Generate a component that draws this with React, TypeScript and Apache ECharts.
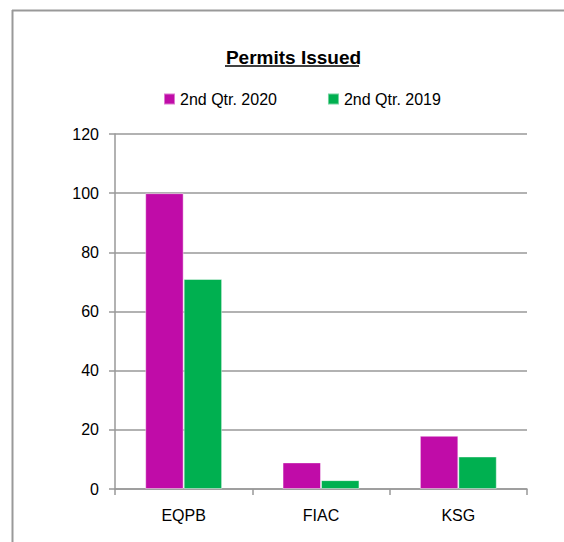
import React, { useEffect, useRef } from "react";
import * as echarts from "echarts";

const categories = ["EQPB", "FIAC", "KSG"];
const series2020 = [100, 9, 18];
const series2019 = [71, 3, 11];
const seriesNames = ["2nd Qtr. 2020", "2nd Qtr. 2019"];
const titleText = "Permits Issued";

const FONT = "'Liberation Sans Narrow', 'Arial Narrow', 'Liberation Sans', sans-serif";

export default function App() {
  const ref = useRef<HTMLDivElement>(null);
  useEffect(() => {
    if (!ref.current) return;
    const chart = echarts.init(ref.current, undefined, { renderer: "svg" });
    chart.setOption({
      animation: false,
      backgroundColor: "#ffffff",
      textStyle: { fontFamily: FONT },
      title: {
        text: titleText,
        left: 288.5,
        top: 43,
        textAlign: "center",
        textStyle: { fontFamily: FONT, fontSize: 19, fontWeight: "bold", color: "#000" },
      },
      legend: {
        left: 158,
        top: 86,
        itemWidth: 11,
        itemHeight: 11,
        itemGap: 50,
        icon: "rect",
        textStyle: { fontFamily: FONT, fontSize: 16, color: "#000" },
        data: seriesNames,
      },
      grid: { left: 115, right: 37, top: 134, bottom: 53 },
      xAxis: {
        type: "category",
        data: categories,
        axisLine: { lineStyle: { color: "#999", width: 1.5 } },
        axisTick: { show: true, length: 6, lineStyle: { color: "#999", width: 1.5 } },
        axisLabel: { fontFamily: FONT, fontSize: 16, color: "#000", margin: 18 },
      },
      yAxis: {
        type: "value",
        min: 0,
        max: 120,
        interval: 20,
        axisLine: { show: true, lineStyle: { color: "#999", width: 1.5 } },
        axisTick: { show: true, length: 6, lineStyle: { color: "#999", width: 1.5 } },
        axisLabel: { fontFamily: FONT, fontSize: 16, color: "#000", margin: 16 },
        splitLine: { lineStyle: { color: "#999", width: 1.5 } },
      },
      series: [
        {
          name: seriesNames[0],
          type: "bar",
          data: series2020,
          barGap: "0%",
          barCategoryGap: "44%",
          itemStyle: { color: "#C00CA8", borderColor: "rgba(255,255,255,0.45)", borderWidth: 1 },
        },
        {
          name: seriesNames[1],
          type: "bar",
          data: series2019,
          barGap: "0%",
          barCategoryGap: "44%",
          itemStyle: { color: "#00B050", borderColor: "rgba(255,255,255,0.45)", borderWidth: 1 },
        },
      ],
      graphic: [
        { type: "line", shape: { x1: 12.5, y1: 10, x2: 12.5, y2: 542 }, style: { stroke: "#999", lineWidth: 2 } },
        { type: "line", shape: { x1: 12, y1: 10.5, x2: 564, y2: 10.5 }, style: { stroke: "#999", lineWidth: 2 } },
        { type: "line", shape: { x1: 225, y1: 66, x2: 359, y2: 66 }, style: { stroke: "#000", lineWidth: 1.5 } },
      ],
    });
    return () => chart.dispose();
  }, []);
  return (
    <div
      ref={ref}
      style={{ position: "absolute", left: 0, top: 0, width: 564, height: 542 }}
    />
  );
}
